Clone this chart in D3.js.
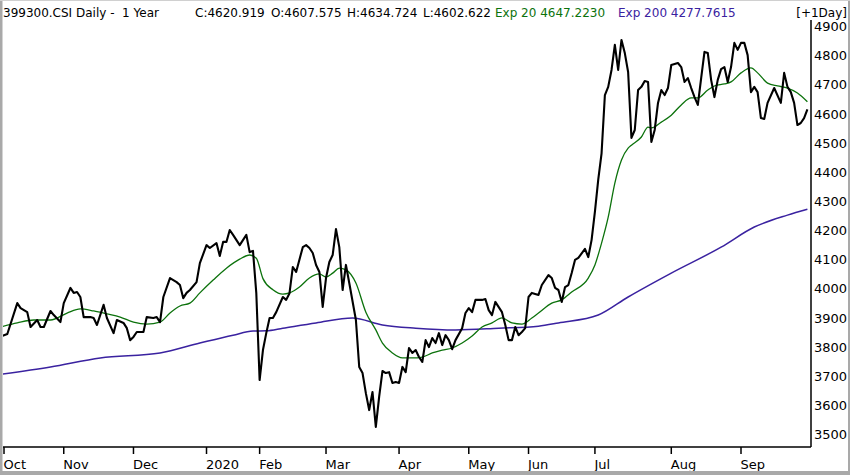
<!DOCTYPE html>
<html>
<head>
<meta charset="utf-8">
<script src="https://cdn.jsdelivr.net/npm/d3@7"></script>
<style>
  html, body { margin: 0; padding: 0; background: #fff; }
  svg { display: block; font-family: "DejaVu Sans", Verdana, sans-serif; }
  text { white-space: pre; }
</style>
</head>
<body>
<div id="chart"></div>
<script>
// trading-day index (0 = last session of Sep 2019) and values
var closeDays = [0, 2, 5, 6, 8, 9, 11, 12, 13, 15, 16, 18, 19, 21, 22, 23, 24, 25, 27, 28, 29, 31, 32, 34, 35, 37, 38, 39, 40, 41,
  43, 44, 46, 47, 48, 49, 51, 53, 54, 55, 56, 57, 59, 60, 62, 63, 65, 66, 67, 68, 69, 70, 72, 74, 75, 76, 77, 78, 79, 80,
  81, 82, 83, 85, 86, 87, 88, 89, 91, 92, 93, 94, 95, 96, 97, 98, 99, 100, 101, 102, 103, 104, 105, 107, 108, 109, 110, 111, 112, 113,
  114, 115, 116, 117, 118, 119, 120, 121, 122, 123, 124, 125, 126, 127, 128, 129, 130, 131, 132, 133, 134, 135, 136, 137, 139, 140, 141, 142, 143, 144,
  145, 146, 147, 148, 149, 151, 152, 153, 154, 155, 156, 157, 158, 159, 160, 162, 163, 165, 166, 167, 168, 169, 170, 171, 172, 173, 174, 176, 177, 178,
  179, 180, 181, 182, 183, 184, 185, 186, 187, 188, 189, 190, 191, 192, 193, 194, 195, 196, 197, 198, 199, 200, 201, 202, 204, 205, 206, 207, 208, 209,
  210, 211, 212, 213, 214, 215, 216, 217, 218, 219, 220, 221, 222, 223, 224, 225, 226, 227, 228, 229, 230, 231, 233, 235, 236, 237, 238, 239, 240, 241,
  242, 243];
var closeValues = [3841, 3850, 3956, 3939, 3925, 3874, 3898, 3874, 3874, 3929, 3915, 3891, 3956, 4008, 3991, 3994, 3977, 3908, 3908, 3905, 3881, 3950, 3905, 3853, 3898, 3888, 3870, 3829, 3840, 3857,
  3857, 3908, 3905, 3908, 3891, 3977, 4042, 4028, 4018, 3973, 3991, 4001, 4028, 4093, 4155, 4145, 4162, 4118, 4166, 4166, 4207, 4190, 4155, 4190, 4131, 4135, 3990, 3692, 3795, 3853,
  3905, 3905, 3925, 3977, 3967, 3990, 4080, 4063, 4148, 4155, 4145, 4128, 4087, 4063, 3943, 4042, 4097, 4121, 4210, 4148, 4001, 4087, 4025, 3898, 3737, 3716, 3647, 3589, 3651, 3531,
  3634, 3723, 3716, 3719, 3682, 3685, 3682, 3737, 3719, 3802, 3785, 3795, 3771, 3754, 3829, 3805, 3836, 3819, 3853, 3812, 3846, 3829, 3798, 3829, 3870, 3922, 3939, 3925, 3967, 3967,
  3967, 3970, 3932, 3915, 3960, 3925, 3881, 3829, 3829, 3874, 3846, 3857, 3870, 3977, 3991, 3984, 4018, 4052, 4042, 4008, 4001, 3960, 4011, 4018, 4059, 4104, 4111, 4142, 4114, 4173,
  4270, 4380, 4470, 4670, 4698, 4756, 4842, 4756, 4859, 4814, 4749, 4523, 4550, 4687, 4698, 4718, 4715, 4509, 4550, 4643, 4687, 4670, 4694, 4773, 4780, 4766, 4715, 4728, 4694, 4663,
  4636, 4728, 4818, 4814, 4722, 4663, 4722, 4759, 4766, 4715, 4766, 4849, 4825, 4849, 4849, 4807, 4680, 4698, 4680, 4591, 4588, 4643, 4694, 4643, 4746, 4698, 4680, 4643, 4567, 4574,
  4591, 4621];

var ema20Days = [0, 5, 10, 15, 20, 24, 28, 32, 36, 40, 44, 48, 51, 54, 57, 60, 64, 68, 72, 75, 77, 79, 82, 85, 87, 90, 93, 96, 98, 100,
  102, 104, 107, 110, 113, 115, 118, 121, 124, 127, 130, 133, 136, 139, 142, 145, 148, 151, 154, 157, 160, 162, 166, 169, 172, 177, 179, 181, 183, 185,
  187, 189, 190, 193, 195, 196, 199, 202, 205, 208, 210, 213, 215, 218, 220, 223, 226, 228, 231, 234, 237, 240, 243];
var ema20Values = [3874, 3888, 3898, 3898, 3922, 3936, 3929, 3919, 3908, 3891, 3884, 3891, 3922, 3946, 3956, 3991, 4035, 4076, 4107, 4121, 4110, 4040, 4002, 3987, 3991, 4011, 4042, 4056, 4046, 4059,
  4076, 4070, 4025, 3925, 3864, 3819, 3785, 3768, 3768, 3771, 3785, 3795, 3802, 3819, 3843, 3874, 3888, 3905, 3888, 3884, 3905, 3922, 3956, 3967, 3994, 4042, 4087, 4162, 4251, 4368,
  4447, 4488, 4498, 4526, 4560, 4557, 4577, 4601, 4636, 4660, 4660, 4687, 4701, 4708, 4715, 4746, 4763, 4746, 4711, 4701, 4694, 4677, 4647];

var ema200Days = [0, 15, 30, 48, 60, 70, 76, 80, 85, 95, 106, 115, 125, 137, 150, 162, 168, 180, 189, 202, 217, 227, 237, 243];
var ema200Values = [3712, 3737, 3768, 3785, 3819, 3846, 3860, 3861, 3870, 3888, 3905, 3881, 3870, 3864, 3870, 3877, 3888, 3915, 3977, 4059, 4148, 4217, 4258, 4278];

var monthLabels = ["Oct", "Nov", "Dec", "2020", "Feb", "Mar", "Apr", "May", "Jun", "Jul", "Aug", "Sep"];
var monthDays = [1, 19, 40, 62, 78, 98, 120, 141, 159, 179, 202, 223];
var priceTicks = [3500, 3600, 3700, 3800, 3900, 4000, 4100, 4200, 4300, 4400, 4500, 4600, 4700, 4800, 4900];

// header pieces and where each one starts
var headerTexts = ["399300.CSI Daily -  1 Year", "C:4620.919", "O:4607.575", "H:4634.724", "L:4602.622", "Exp 20 4647.2230", "Exp 200 4277.7615"];
var headerX = [3, 195, 271, 347, 423, 495, 618];
var headerKinds = ["main", "main", "main", "main", "main", "ema20", "ema200"];
var headerRight = "[+1Day]";

var WIDTH = 850, HEIGHT = 475;
var plot = { left: 3, right: 811, top: 20, bottom: 447 };
var GREEN = "#0c720c", PURPLE = "#3a22a0";
var headerColor = { main: "#000", ema20: GREEN, ema200: PURPLE };

var svg = d3.select("#chart").append("svg")
  .attr("width", WIDTH)
  .attr("height", HEIGHT);

svg.append("rect").attr("width", WIDTH).attr("height", HEIGHT).attr("fill", "#fff");

var x = d3.scaleLinear().domain([1, 223]).range([4, 741]);
var y = d3.scaleLinear().domain([3500, 4900]).range([436, 28]);

svg.append("clipPath").attr("id", "plot-clip")
  .append("rect")
  .attr("x", plot.left).attr("y", plot.top)
  .attr("width", plot.right - plot.left).attr("height", plot.bottom - plot.top);

var lines = svg.append("g").attr("clip-path", "url(#plot-clip)");

function drawSeries(days, values, color, width, curve) {
  var pts = days.map((d, i) => [d, values[i]]);
  lines.append("path")
    .datum(pts)
    .attr("fill", "none")
    .attr("stroke", color)
    .attr("stroke-width", width)
    .attr("stroke-linejoin", "round")
    .attr("d", d3.line().curve(curve).x(d => x(d[0])).y(d => y(d[1])));
}

drawSeries(ema200Days, ema200Values, PURPLE, 1.5, d3.curveMonotoneX);
drawSeries(ema20Days, ema20Values, GREEN, 1.3, d3.curveMonotoneX);
drawSeries(closeDays, closeValues, "#000", 2.1, d3.curveLinear);

// bottom axis
var xAxis = svg.append("g").attr("class", "x-axis");
xAxis.append("line")
  .attr("x1", plot.left).attr("x2", plot.right)
  .attr("y1", plot.bottom).attr("y2", plot.bottom)
  .attr("stroke", "#000").attr("stroke-width", 1.5);

var months = xAxis.selectAll("g.month")
  .data(monthDays)
  .enter().append("g")
  .attr("class", "month")
  .attr("transform", d => `translate(${x(d)},0)`);

months.append("line")
  .attr("y1", plot.bottom).attr("y2", plot.bottom + 7)
  .attr("stroke", "#000").attr("stroke-width", 1.5);

months.append("text")
  .attr("x", -0.5).attr("y", plot.bottom + 22)
  .attr("font-size", 13)
  .attr("fill", "#000")
  .text((d, i) => monthLabels[i]);

// right axis
svg.append("line")
  .attr("x1", plot.right).attr("x2", plot.right)
  .attr("y1", plot.top).attr("y2", plot.bottom)
  .attr("stroke", "#000").attr("stroke-width", 1.5);

svg.append("g").selectAll("text")
  .data(priceTicks)
  .enter().append("text")
  .attr("x", plot.right + 3)
  .attr("y", d => y(d) - 1.5)
  .attr("dy", "0.36em")
  .attr("font-size", 13)
  .attr("fill", "#000")
  .text(d => d);

// header
var header = svg.append("g").attr("font-size", 12);
header.selectAll("text.part")
  .data(headerTexts)
  .enter().append("text")
  .attr("class", "part")
  .attr("x", (d, i) => headerX[i])
  .attr("y", 17)
  .attr("fill", (d, i) => headerColor[headerKinds[i]])
  .text(d => d);
header.append("text").attr("x", 847).attr("y", 17).attr("text-anchor", "end").attr("fill", "#000").text(headerRight);

// window frame
var frame = svg.append("g").attr("fill", "#a9a9a9");
frame.append("rect").attr("x", 0).attr("y", 0).attr("width", 2.5).attr("height", HEIGHT);
frame.append("rect").attr("x", 0).attr("y", 471).attr("width", WIDTH).attr("height", 4);
frame.append("rect").attr("x", 848).attr("y", 0).attr("width", 2).attr("height", HEIGHT);
frame.append("rect").attr("x", 0).attr("y", 0).attr("width", WIDTH).attr("height", 1).attr("fill", "#d0d0d0");
</script>
</body>
</html>
